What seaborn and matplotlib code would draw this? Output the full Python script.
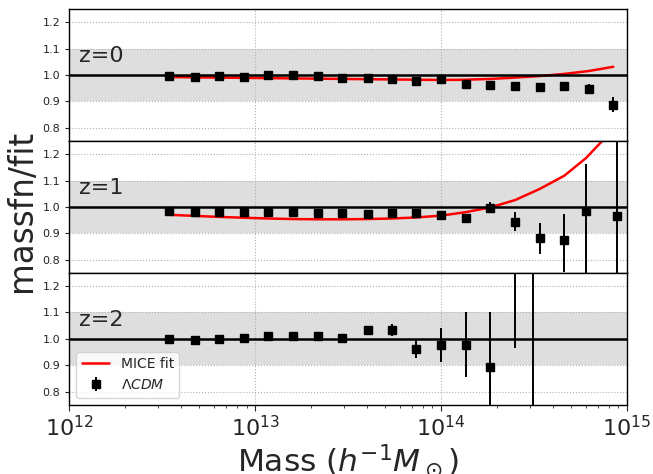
import numpy as np
import matplotlib
matplotlib.use("Agg")
import matplotlib.pyplot as plt
import seaborn as sns
import pandas as pd

# ---------------- data ----------------
redshift_labels = ["z=0", "z=1", "z=2"]

mass_z0 = [3.46e12, 4.73e12, 6.41e12, 8.71e12, 1.18e13, 1.607e13, 2.178e13, 2.951e13,
           4.027e13, 5.433e13, 7.362e13, 1.002e14, 1.358e14, 1.841e14, 2.506e14,
           3.396e14, 4.603e14, 6.237e14, 8.453e14]
ratio_z0 = [0.995, 0.994, 0.996, 0.994, 1.001, 0.999, 0.996, 0.987, 0.989, 0.984,
            0.979, 0.985, 0.965, 0.961, 0.960, 0.953, 0.959, 0.945, 0.887]
err_z0 = [0.003, 0.003, 0.003, 0.003, 0.003, 0.004, 0.004, 0.004, 0.005, 0.005,
          0.006, 0.006, 0.007, 0.008, 0.009, 0.011, 0.013, 0.019, 0.029]
fit_z0 = [0.992, 0.991, 0.990, 0.989, 0.988, 0.987, 0.986, 0.985, 0.984, 0.983,
          0.982, 0.981, 0.982, 0.985, 0.990, 0.996, 1.004, 1.015, 1.031]

mass_z1 = [3.46e12, 4.73e12, 6.41e12, 8.71e12, 1.18e13, 1.607e13, 2.178e13, 2.951e13,
           4.027e13, 5.433e13, 7.362e13, 1.002e14, 1.358e14, 1.841e14, 2.506e14,
           3.396e14, 4.603e14, 6.026e14, 8.872e14]
ratio_z1 = [0.984, 0.979, 0.980, 0.980, 0.981, 0.981, 0.977, 0.976, 0.974, 0.977,
            0.976, 0.968, 0.959, 0.997, 0.944, 0.881, 0.874, 0.983, 0.965]
err_lo_z1 = [0.003, 0.003, 0.003, 0.003, 0.004, 0.004, 0.005, 0.005, 0.006, 0.007,
             0.008, 0.010, 0.012, 0.022, 0.035, 0.058, 0.120, 0.250, 0.350]
err_hi_z1 = [0.003, 0.003, 0.003, 0.003, 0.004, 0.004, 0.005, 0.005, 0.006, 0.007,
             0.008, 0.010, 0.012, 0.022, 0.035, 0.058, 0.100, 0.178, 0.350]
fit_z1 = [0.970, 0.966, 0.962, 0.959, 0.956, 0.954, 0.953, 0.953, 0.954, 0.956,
          0.960, 0.967, 0.980, 0.998, 1.026, 1.068, 1.118, 1.185, 1.310]

mass_z2 = [3.46e12, 4.73e12, 6.41e12, 8.71e12, 1.18e13, 1.607e13, 2.178e13, 2.951e13,
           4.027e13, 5.433e13, 7.362e13, 1.002e14, 1.358e14, 1.841e14, 2.489e14,
           3.133e14]
ratio_z2 = [0.999, 0.994, 1.000, 1.005, 1.010, 1.011, 1.009, 1.005, 1.035, 1.033,
            0.963, 0.976, 0.977, 0.892, 1.400, 0.500]
err_z2 = [0.004, 0.004, 0.005, 0.005, 0.006, 0.007, 0.008, 0.009, 0.012, 0.023,
          0.034, 0.064, 0.123, 0.210, 0.435, 0.900]

y_ticks = [0.8, 0.9, 1.0, 1.1, 1.2]
x_ticks = [1e12, 1e13, 1e14, 1e15]

# ---------------- style ----------------
sns.set_style("ticks")
plt.rcParams["font.family"] = ["DejaVu Sans"]
plt.rcParams["mathtext.fontset"] = "dejavusans"

fig, axes = plt.subplots(3, 1, sharex=True, figsize=(6.53, 4.74), dpi=100)
fig.subplots_adjust(left=0.106, right=0.960, top=0.981, bottom=0.146, hspace=0)

panels = [
    (mass_z0, ratio_z0, [err_z0, err_z0], fit_z0),
    (mass_z1, ratio_z1, [err_lo_z1, err_hi_z1], fit_z1),
    (mass_z2, ratio_z2, [err_z2, err_z2], None),
]

fit_handle = None
err_handle = None
for i, (ax, (m, r, e, f)) in enumerate(zip(axes, panels)):
    ax.set_xscale("log")
    ax.axhspan(0.9, 1.1, color="#dedede", zorder=0, lw=0)
    ax.axhline(1.0, color="black", lw=1.8, zorder=3)
    if f is not None:
        df = pd.DataFrame({"mass": m, "fit": f})
        sns.lineplot(data=df, x="mass", y="fit", color="red", lw=1.8, ax=ax,
                     zorder=2, label="MICE fit", legend=False)
        if fit_handle is None:
            fit_handle = ax.get_lines()[-1]
    eb = ax.errorbar(m, r, yerr=np.array(e), fmt="s", color="black", ms=5.8,
                     elinewidth=1.4, capsize=0, zorder=4, label=r"$\Lambda CDM$")
    if err_handle is None:
        err_handle = eb
    ax.set_ylim(0.75, 1.25)
    ax.set_xlim(1e12, 1e15)
    ax.set_yticks(y_ticks)
    ax.set_yticklabels([f"{v:.1f}" for v in y_ticks], fontsize=8)
    ax.grid(True, which="major", linestyle=":", color="#b0b0b0", lw=0.8)
    ax.set_axisbelow(True)
    ax.text(0.018, 0.60, redshift_labels[i], transform=ax.transAxes,
            fontsize=16, va="baseline", ha="left", zorder=5)
    ax.set_xlabel("")
    ax.set_ylabel("")
    for s in ax.spines.values():
        s.set_linewidth(1.0)
        s.set_color("black")
    ax.tick_params(axis="y", length=3, width=0.8, colors="#222222")
    if i < 2:
        ax.tick_params(axis="x", which="both", bottom=False, labelbottom=False)

ax3 = axes[2]
ax3.set_xticks(x_ticks)
ax3.tick_params(axis="x", which="major", labelsize=16, length=4, width=0.8)
ax3.tick_params(axis="x", which="minor", length=2.5, width=0.6)
ax3.set_xlabel(r"Mass ($h^{-1}M_\odot$)", fontsize=22.5, labelpad=2)
ax3.legend(handles=[fit_handle, err_handle], labels=["MICE fit", r"$\Lambda CDM$"],
           loc="lower left", fontsize=10, frameon=True, framealpha=0.8,
           edgecolor="#cccccc", fancybox=True)

fig.text(0.033, 0.555, "massfn/fit", rotation=90, fontsize=23.5, va="center", ha="center")

fig.savefig("out.png", dpi=100)
